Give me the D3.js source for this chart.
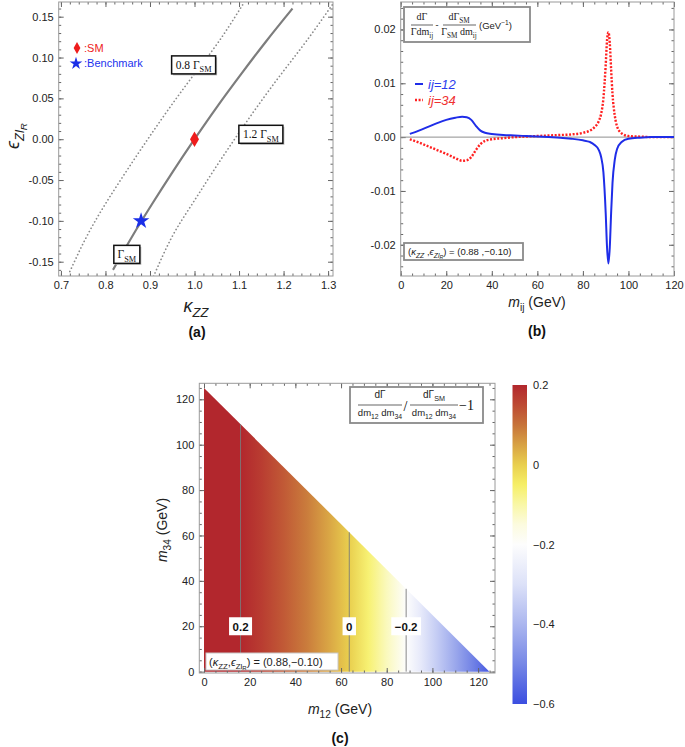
<!DOCTYPE html>
<html><head><meta charset="utf-8">
<script src="https://cdn.jsdelivr.net/npm/d3@7"></script>
<style>
html,body{margin:0;padding:0;background:#fff;}
svg{display:block;font-family:"Liberation Sans",Arial,sans-serif;}
</style></head>
<body><svg id="c" width="685" height="747"></svg>
<script>
// ---------- DATA ----------
// Panel (a): contours in (kappa_ZZ, eps_ZlR) plane
const solidKappa = [0.817, 0.859, 0.904, 0.951, 1.0, 1.051, 1.105, 1.161, 1.220];
const solidEps   = [-0.16, -0.12, -0.08, -0.04, 0.0, 0.04, 0.08, 0.12, 0.16];
const low08Kappa = [0.72, 0.757, 0.799, 0.846, 0.895, 0.946, 1.0, 1.055, 1.112];
const low08Eps   = [-0.162, -0.12, -0.08, -0.04, 0.0, 0.04, 0.08, 0.12, 0.168];
const hi12Kappa  = [0.908, 0.949, 0.994, 1.041, 1.09, 1.141, 1.195, 1.251, 1.31];
const hi12Eps    = [-0.168, -0.12, -0.08, -0.04, 0.0, 0.04, 0.08, 0.12, 0.165];
const smPoint = [1.0, 0.0];
const benchmarkPoint = [0.88, -0.10];
const aXTicks = [0.7, 0.8, 0.9, 1.0, 1.1, 1.2, 1.3];
const aYTicks = [-0.15, -0.10, -0.05, 0.0, 0.05, 0.10, 0.15];

// Panel (b): normalized distribution differences
const mij = [4, 8, 12, 16, 20, 24, 27, 29, 31, 33, 35, 37, 40, 45, 50, 55, 60, 65, 70, 75, 80, 83, 85, 87, 88, 89, 90, 90.6, 91.2, 91.8, 92.4, 93, 94, 95, 97, 100, 105, 110, 120];
const diff12 = [0.0006, 0.0012, 0.0019, 0.0026, 0.0032, 0.0036, 0.0038, 0.0037, 0.0032, 0.0021, 0.0012, 0.0008, 0.0006, 0.0004, 0.0003, 0.0002, 0.0001, 0.0, -0.0001, -0.0003, -0.0006, -0.0009, -0.0014, -0.0024, -0.0037, -0.0065, -0.0140, -0.0205, -0.0235, -0.0205, -0.0140, -0.0085, -0.0042, -0.0022, -0.0009, -0.0003, -0.0001, 0.0, 0.0];
const diff34 = [-0.0004, -0.0010, -0.0017, -0.0024, -0.0031, -0.0039, -0.0044, -0.0043, -0.0037, -0.0024, -0.0013, -0.0007, -0.0004, -0.0002, 0.0, 0.0001, 0.0002, 0.0003, 0.0004, 0.0005, 0.0008, 0.0012, 0.0018, 0.0030, 0.0043, 0.0072, 0.0133, 0.0180, 0.0195, 0.0175, 0.0125, 0.0080, 0.0040, 0.0020, 0.0007, 0.0002, 0.0001, 0.0, 0.0];
const bXTicks = [0, 20, 40, 60, 80, 100, 120];
const bYTicks = [-0.02, -0.01, 0.0, 0.01, 0.02];

// Panel (c): ratio profile vs m12 (independent of m34), triangle m12+m34 <= mH
const mH = 125;
const m12Grid = [0, 8, 16, 25, 35, 45, 55, 63.6, 72, 80, 88.5, 95, 102, 110, 118, 125];
const ratioVals = [0.26, 0.23, 0.20, 0.17, 0.13, 0.09, 0.045, 0.0, -0.06, -0.12, -0.20, -0.27, -0.35, -0.43, -0.51, -0.58];
const contourLevels = ["0.2", "0", "−0.2"];
const contourM12 = [16, 63.6, 88.5];
const cTicks = [0, 20, 40, 60, 80, 100, 120];
const cbTicks = [0.2, 0, -0.2, -0.4, -0.6];
const cbStopVals = [0.2, 0.15, 0.1, 0.05, 0.0, -0.05, -0.1, -0.15, -0.2, -0.3, -0.4, -0.5, -0.6];
const cbStopCols = ["#b2272d", "#bd4a33", "#c7733a", "#d8a244", "#e9cf4e", "#f6ef66", "#f9f7a6", "#fcfbdf", "#fdfdfd", "#dce1f8", "#abb6ef", "#7687e6", "#3b4ee0"];

// ---------- HELPERS ----------
const svg = d3.select("#c");
const range = (a, b, s) => { const r = []; for (let v = a; v <= b + 1e-9; v += s) r.push(+v.toFixed(6)); return r; };

function frame(g, x, y, o) {
  const [x0, x1] = x.range(), [yb, yt] = y.range();
  const st = sel => { sel.select(".domain").remove(); sel.selectAll("line").attr("stroke", "#666"); sel.selectAll("text").attr("font-family", "Liberation Sans, Arial, sans-serif").attr("font-size", 11).attr("fill", "#222"); };
  const ax = (gen, tr) => g.append("g").attr("transform", tr).call(gen).call(st);
  ax(d3.axisBottom(x).tickValues(o.minX).tickSizeInner(-2.5).tickSizeOuter(0).tickFormat(""), `translate(0,${yb})`);
  ax(d3.axisTop(x).tickValues(o.minX).tickSizeInner(-2.5).tickSizeOuter(0).tickFormat(""), `translate(0,${yt})`);
  ax(d3.axisLeft(y).tickValues(o.minY).tickSizeInner(-2.5).tickSizeOuter(0).tickFormat(""), `translate(${x0},0)`);
  ax(d3.axisRight(y).tickValues(o.minY).tickSizeInner(-2.5).tickSizeOuter(0).tickFormat(""), `translate(${x1},0)`);
  ax(d3.axisBottom(x).tickValues(o.majX).tickSizeInner(-5).tickSizeOuter(0).tickPadding(5).tickFormat(o.fx), `translate(0,${yb})`);
  ax(d3.axisTop(x).tickValues(o.majX).tickSizeInner(-5).tickSizeOuter(0).tickFormat(""), `translate(0,${yt})`);
  ax(d3.axisLeft(y).tickValues(o.majY).tickSizeInner(-5).tickSizeOuter(0).tickPadding(5).tickFormat(o.fy), `translate(${x0},0)`);
  ax(d3.axisRight(y).tickValues(o.majY).tickSizeInner(-5).tickSizeOuter(0).tickFormat(""), `translate(${x1},0)`);
  g.append("rect").attr("x", x0).attr("y", yt).attr("width", x1 - x0).attr("height", yb - yt)
    .attr("fill", "none").attr("stroke", "#9a9a9a").attr("stroke-width", 1);
}

function rich(g, x, y, parts, o = {}) {
  const fs = o.fs || 11;
  const off = { 0: 0, 1: 0.28 * fs, 2: 0.45 * fs, "-1": -0.4 * fs };
  const sz = { 0: fs, 1: 0.72 * fs, 2: 0.55 * fs, "-1": 0.7 * fs };
  const t = g.append("text").attr("x", x).attr("y", y)
    .attr("font-family", o.ff || "Liberation Sans, Arial, sans-serif")
    .attr("text-anchor", o.anchor || "start").attr("fill", o.fill || "#222")
    .attr("font-weight", o.fw || "normal");
  if (o.transform) t.attr("transform", o.transform);
  let prev = 0;
  parts.forEach(([s, lvl, it]) => {
    lvl = lvl || 0;
    t.append("tspan").attr("dy", (off[lvl] - off[prev]).toFixed(2)).attr("font-size", sz[lvl])
      .attr("font-style", it ? "italic" : "normal").text(s);
    prev = lvl;
  });
  return t;
}

// ---------- PANEL (a) ----------
const gA = svg.append("g");
const xA = d3.scaleLinear().domain([0.695, 1.311]).range([58.7, 333]);
const yA = d3.scaleLinear().domain([-0.1675, 0.168]).range([276, 2]);
frame(gA, xA, yA, { majX: aXTicks, minX: range(0.70, 1.30, 0.02), majY: aYTicks, minY: range(-0.16, 0.16, 0.01), fx: d => d.toFixed(1), fy: d => d.toFixed(2) });
svg.append("clipPath").attr("id", "clipA").append("rect").attr("x", 58.7).attr("y", 2).attr("width", 274.3).attr("height", 274);
const lineA = d3.line().x(d => xA(d[0])).y(d => yA(d[1])).curve(d3.curveNatural);
const zipA = (k, e) => k.map((v, i) => [v, e[i]]);
const pa = gA.append("g").attr("clip-path", "url(#clipA)");
[[low08Kappa, low08Eps], [hi12Kappa, hi12Eps]].forEach(([k, e]) => {
  pa.append("path").attr("d", lineA(zipA(k, e))).attr("fill", "none").attr("stroke", "#8a8a8a").attr("stroke-width", 1.7).attr("stroke-dasharray", "0.1,3.6").attr("stroke-linecap", "round");
});
pa.append("path").attr("d", lineA(zipA(solidKappa, solidEps))).attr("fill", "none").attr("stroke", "#7d7d7d").attr("stroke-width", 2.2);

function gammaBox(cxv, cyv, pre, w) {
  const cxp = xA(cxv), cyp = yA(cyv);
  gA.append("rect").attr("x", cxp - w / 2 + 1.5).attr("y", cyp - 9 + 1.5).attr("width", w).attr("height", 18).attr("fill", "#bbb");
  gA.append("rect").attr("x", cxp - w / 2).attr("y", cyp - 9).attr("width", w).attr("height", 18).attr("fill", "#fff").attr("stroke", "#111").attr("stroke-width", 1.5);
  rich(gA, cxp, cyp + 4, [[pre + "Γ", 0], ["SM", 1]], { fs: 11.5, anchor: "middle", ff: "Liberation Serif, serif", fill: "#111" });
}
gammaBox(0.998, 0.091, "0.8 ", 44);
gammaBox(1.149, 0.006, "1.2 ", 44);
gammaBox(0.848, -0.141, "", 26);

gA.append("path").attr("d", d3.symbol(d3.symbolDiamond, 70)()).attr("transform", `translate(${xA(smPoint[0])},${yA(smPoint[1])})`).attr("fill", "#ee1c1c");
gA.append("path").attr("d", d3.symbol(d3.symbolStar, 85)()).attr("transform", `translate(${xA(benchmarkPoint[0])},${yA(benchmarkPoint[1])})`).attr("fill", "#1a2ee8");
gA.append("path").attr("d", d3.symbol(d3.symbolDiamond, 40)()).attr("transform", "translate(77,48)").attr("fill", "#ee1c1c");
gA.append("text").attr("x", 84).attr("y", 52).attr("font-size", 11).attr("fill", "#ee2222").text(":SM");
gA.append("path").attr("d", d3.symbol(d3.symbolStar, 50)()).attr("transform", "translate(76,63.5)").attr("fill", "#1a2ee8");
gA.append("text").attr("x", 84).attr("y", 67).attr("font-size", 11).attr("fill", "#2233ee").text(":Benchmark");

rich(gA, 196, 312, [["κ", 0, true], ["ZZ", 1, true]], { fs: 18, anchor: "middle", fill: "#222" });
rich(gA, 0, 0, [["ϵ", 0, true], ["Zl", 1, true], ["R", 2, true]], { fs: 18, anchor: "middle", fill: "#222", transform: "translate(19,136) rotate(-90)" });
gA.append("text").attr("x", 197).attr("y", 337).attr("text-anchor", "middle").attr("font-size", 14).attr("font-weight", "bold").attr("fill", "#111").text("(a)");

// ---------- PANEL (b) ----------
const gB = svg.append("g");
const xB = d3.scaleLinear().domain([0, 120]).range([400.7, 674]);
const yB = d3.scaleLinear().domain([-0.0258, 0.0251]).range([276, 2]);
frame(gB, xB, yB, { majX: bXTicks, minX: range(0, 120, 5), majY: bYTicks, minY: range(-0.024, 0.024, 0.002), fx: d => d, fy: d => (Math.abs(d) < 1e-9 ? 0 : d).toFixed(2) });
gB.append("line").attr("x1", xB(0)).attr("x2", xB(120)).attr("y1", yB(0)).attr("y2", yB(0)).attr("stroke", "#8f8f8f").attr("stroke-width", 1);
const lineB = d3.line().x((d, i) => xB(mij[i])).y(d => yB(d)).curve(d3.curveMonotoneX);
gB.append("path").attr("d", lineB(diff34)).attr("fill", "none").attr("stroke", "#ff2020").attr("stroke-width", 2.4).attr("stroke-dasharray", "2,1.6");
gB.append("path").attr("d", lineB(diff12)).attr("fill", "none").attr("stroke", "#1f2de8").attr("stroke-width", 2);

gB.append("rect").attr("x", 404).attr("y", 7).attr("width", 126).attr("height", 35).attr("fill", "#fff").attr("stroke", "#8a8a8a").attr("stroke-width", 1.8);
const serif = "Liberation Serif, Times New Roman, serif";
rich(gB, 422, 20, [["dΓ", 0]], { fs: 10, anchor: "middle", ff: serif });
gB.append("line").attr("x1", 411).attr("x2", 433).attr("y1", 25).attr("y2", 25).attr("stroke", "#222").attr("stroke-width", 0.7);
rich(gB, 422, 35, [["Γdm", 0], ["ij", 1]], { fs: 10, anchor: "middle", ff: serif });
gB.append("text").attr("x", 437).attr("y", 28).attr("font-size", 9).attr("text-anchor", "middle").attr("font-family", serif).text("-");
rich(gB, 459, 20, [["dΓ", 0], ["SM", 1]], { fs: 10, anchor: "middle", ff: serif });
gB.append("line").attr("x1", 443).attr("x2", 476).attr("y1", 25).attr("y2", 25).attr("stroke", "#222").attr("stroke-width", 0.7);
rich(gB, 459, 35, [["Γ", 0], ["SM", 1], [" dm", 0], ["ij", 1]], { fs: 10, anchor: "middle", ff: serif });
rich(gB, 479, 28.5, [["(GeV", 0], ["−1", -1], [")", 0]], { fs: 9.5, anchor: "start" });

gB.append("line").attr("x1", 415).attr("x2", 423).attr("y1", 84).attr("y2", 84).attr("stroke", "#1f2de8").attr("stroke-width", 2);
gB.append("text").attr("x", 428).attr("y", 88.5).attr("font-size", 13).attr("font-style", "italic").attr("fill", "#2a3bee").text("ij=12");
gB.append("line").attr("x1", 415).attr("x2", 423).attr("y1", 100).attr("y2", 100).attr("stroke", "#ff2020").attr("stroke-width", 2.4).attr("stroke-dasharray", "2,1.6");
gB.append("text").attr("x", 428).attr("y", 104.5).attr("font-size", 13).attr("font-style", "italic").attr("fill", "#f03030").text("ij=34");

gB.append("rect").attr("x", 404).attr("y", 243).attr("width", 119).attr("height", 17).attr("fill", "#fff").attr("stroke", "#8a8a8a").attr("stroke-width", 1.8);
rich(gB, 408, 255, [["(", 0], ["κ", 0, true], ["ZZ", 1, true], [" ,", 0], ["ϵ", 0, true], ["Zl", 1, true], ["R", 2, true], [") = (0.88 ,−0.10)", 0]], { fs: 9.5 });

rich(gB, 537, 307, [["m", 0, true], ["ij", 1], [" (GeV)", 0]], { fs: 14, anchor: "middle" });
gB.append("text").attr("x", 537).attr("y", 336).attr("text-anchor", "middle").attr("font-size", 14).attr("font-weight", "bold").attr("fill", "#111").text("(b)");

// ---------- PANEL (c) ----------
const gC = svg.append("g");
const xC = d3.scaleLinear().domain([-2.06, 127.4]).range([199.3, 495]);
const yC = d3.scaleLinear().domain([-0.6, 127.05]).range([673, 383.3]);
const col = d3.scaleLinear().domain(cbStopVals.slice().reverse()).range(cbStopCols.slice().reverse()).clamp(true);
const defs = svg.append("defs");
const grad = defs.append("linearGradient").attr("id", "gradC").attr("gradientUnits", "userSpaceOnUse")
  .attr("x1", xC(0)).attr("x2", xC(mH)).attr("y1", 0).attr("y2", 0);
m12Grid.forEach((m, i) => grad.append("stop").attr("offset", m / mH).attr("stop-color", col(ratioVals[i])));
const tri = [[0, 0], [0, mH], [mH, 0]];
gC.append("path").attr("d", d3.line().x(d => xC(d[0])).y(d => yC(d[1]))(tri) + "Z").attr("fill", "url(#gradC)");
contourM12.forEach((m) => {
  gC.append("line").attr("x1", xC(m)).attr("x2", xC(m)).attr("y1", yC(0)).attr("y2", yC(mH - m)).attr("stroke", "#7a7a7a").attr("stroke-width", 0.9);
});
frame(gC, xC, yC, { majX: cTicks, minX: range(0, 125, 5), majY: cTicks, minY: range(0, 125, 5), fx: d => d, fy: d => d });
contourM12.forEach((m, i) => {
  const t = gC.append("text").attr("x", xC(m)).attr("y", yC(20) + 4.5).attr("text-anchor", "middle").attr("font-size", 11.5).attr("font-weight", "bold").attr("fill", "#111").text(contourLevels[i]);
  const bb = t.node().getBBox();
  gC.insert("rect", () => t.node()).attr("x", bb.x - 3.5).attr("y", yC(20) - 9).attr("width", bb.width + 7).attr("height", 18).attr("fill", "#fff");
});
gC.append("rect").attr("x", 350).attr("y", 387).attr("width", 133).attr("height", 36).attr("fill", "#fff").attr("stroke", "#8a8a8a").attr("stroke-width", 1.8);
rich(gC, 380, 398, [["dΓ", 0]], { fs: 10, anchor: "middle" });
gC.append("line").attr("x1", 358).attr("x2", 402).attr("y1", 405).attr("y2", 405).attr("stroke", "#222").attr("stroke-width", 0.7);
rich(gC, 380, 416, [["dm", 0], ["12", 1], [" dm", 0], ["34", 1]], { fs: 9.5, anchor: "middle" });
gC.append("text").attr("x", 405.5).attr("y", 411).attr("text-anchor", "middle").attr("font-size", 14).attr("font-family", serif).text("/");
rich(gC, 434, 398, [["dΓ", 0], ["SM", 1]], { fs: 10, anchor: "middle" });
gC.append("line").attr("x1", 410).attr("x2", 458).attr("y1", 405).attr("y2", 405).attr("stroke", "#222").attr("stroke-width", 0.7);
rich(gC, 434, 416, [["dm", 0], ["12", 1], [" dm", 0], ["34", 1]], { fs: 9.5, anchor: "middle" });
gC.append("text").attr("x", 459).attr("y", 410).attr("font-size", 14).attr("font-family", serif).attr("fill", "#111").text("−1");
gC.append("rect").attr("x", 206).attr("y", 653).attr("width", 132).attr("height", 17).attr("fill", "#fff").attr("stroke", "#c8c8c8").attr("stroke-width", 1);
rich(gC, 209, 665.5, [["(", 0], ["κ", 0, true], ["ZZ", 1], [",", 0], ["ϵ", 0, true], ["Zl", 1], ["R", 2], [") = (0.88,−0.10)", 0]], { fs: 11 });

rich(gC, 340, 714, [["m", 0, true], ["12", 1], [" (GeV)", 0]], { fs: 14, anchor: "middle" });
rich(gC, 0, 0, [["m", 0, true], ["34", 1], [" (GeV)", 0]], { fs: 14, anchor: "middle", transform: "translate(167,530) rotate(-90)" });
gC.append("text").attr("x", 340).attr("y", 743).attr("text-anchor", "middle").attr("font-size", 14).attr("font-weight", "bold").attr("fill", "#111").text("(c)");

const cb = d3.scaleLinear().domain([-0.6, 0.2]).range([704, 385]);
const gradCB = defs.append("linearGradient").attr("id", "gradCB").attr("x1", 0).attr("x2", 0).attr("y1", 1).attr("y2", 0);
cbStopVals.slice().reverse().forEach(v => gradCB.append("stop").attr("offset", (v + 0.6) / 0.8).attr("stop-color", col(v)));
gC.append("rect").attr("x", 512.5).attr("y", cb(0.2)).attr("width", 14.5).attr("height", cb(-0.6) - cb(0.2)).attr("fill", "url(#gradCB)");
cbTicks.forEach(v => {
  gC.append("text").attr("x", 533).attr("y", cb(v) + 4).attr("font-size", 11).attr("fill", "#222")
    .text(v === 0 ? "0" : (v < 0 ? "−" : "") + Math.abs(v));
});
</script></body></html>
